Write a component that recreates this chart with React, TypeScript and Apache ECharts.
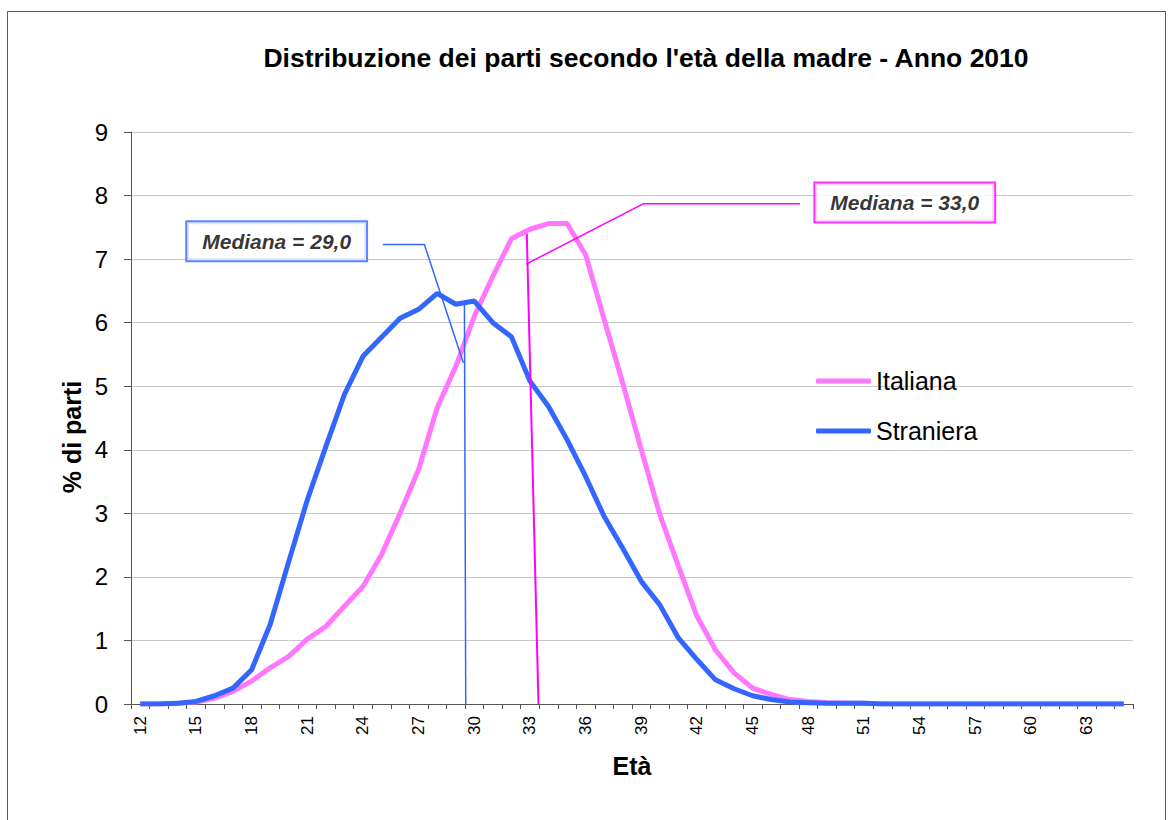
import React, { useEffect, useRef } from "react";
import * as echarts from "echarts";

const FONT = "'Liberation Sans', Arial, Helvetica, sans-serif";

const TITLE = "Distribuzione dei parti secondo l'età della madre - Anno 2010";
const X_NAME = "Età";
const Y_NAME = "% di parti";

// Ages 12..65
const ages: string[] = [
  "12", "13", "14", "15", "16", "17", "18", "19", "20", "21", "22", "23", "24", "25",
  "26", "27", "28", "29", "30", "31", "32", "33", "34", "35", "36", "37", "38", "39",
  "40", "41", "42", "43", "44", "45", "46", "47", "48", "49", "50", "51", "52", "53",
  "54", "55", "56", "57", "58", "59", "60", "61", "62", "63", "64", "65",
];

const italiana: number[] = [
  0, 0, 0.01, 0.03, 0.09, 0.2, 0.36, 0.57, 0.75, 1.02, 1.22, 1.54, 1.85, 2.35,
  3.0, 3.69, 4.66, 5.31, 6.1, 6.73, 7.32, 7.47, 7.56, 7.56, 7.07, 6.05, 5.05, 4.0,
  2.98, 2.17, 1.38, 0.85, 0.49, 0.25, 0.15, 0.07, 0.04, 0.02, 0.01, 0.01, 0, 0,
  0, 0, 0, 0, 0, 0, 0, 0, 0, 0, 0, 0,
];

const straniera: number[] = [
  0, 0, 0.01, 0.04, 0.13, 0.25, 0.54, 1.25, 2.24, 3.21, 4.05, 4.87, 5.47, 5.77,
  6.07, 6.21, 6.46, 6.29, 6.34, 6.0, 5.78, 5.08, 4.68, 4.16, 3.58, 2.95, 2.45, 1.93,
  1.56, 1.04, 0.7, 0.38, 0.24, 0.13, 0.07, 0.03, 0.02, 0.01, 0.01, 0.01, 0, 0,
  0, 0, 0, 0, 0, 0, 0, 0, 0, 0, 0, 0,
];

const yTicks = { min: 0, max: 9, interval: 1 };

// Annotations in data units (age, %)
const blueCallout: number[][] = [[25.07, 7.23], [27.31, 7.23], [29.41, 5.37]];
const blueMedianLine: number[][] = [[29.47, 6.28], [29.54, 0]];
const pinkCallout: number[][] = [[47.56, 7.87], [39.1, 7.87], [32.79, 6.92]];
const pinkMedianLine: number[][] = [[32.83, 7.4], [33.46, 0]];
const medianLabels: string[] = ["Mediana = 29,0", "Mediana = 33,0"];
const medianBoxPos: number[][] = [[19.35, 7.28], [53.2, 7.89]];

const PINK = "#ff77ff";
const BLUE = "#3366ff";
const MAGENTA = "#ff00ff";

export default function App() {
  const ref = useRef<HTMLDivElement>(null);

  useEffect(() => {
    if (!ref.current) return;
    const chart = echarts.init(ref.current, null, { renderer: "svg" });

    const option: any = {
      animation: false,
      backgroundColor: "#ffffff",
      textStyle: { fontFamily: FONT },
      grid: { left: 131, right: 37, top: 132, bottom: 116, containLabel: false },
      legend: {
        orient: "vertical",
        left: 811,
        top: 363,
        icon: "roundRect",
        itemWidth: 55,
        itemHeight: 5,
        itemGap: 24,
        data: ["Italiana", "Straniera"],
        textStyle: { fontSize: 25, color: "#000", fontFamily: FONT, lineHeight: 26 },
      },
      xAxis: [
        {
          type: "category",
          data: ages,
          boundaryGap: true,
          axisLine: { lineStyle: { color: "#555555", width: 1 } },
          axisTick: { show: true, interval: 0, length: 5, lineStyle: { color: "#555555" } },
          axisLabel: {
            interval: 2,
            rotate: 90,
            fontSize: 17,
            margin: 12,
            color: "#000",
            fontFamily: FONT,
          },
          splitLine: { show: false },
          name: X_NAME,
          nameLocation: "middle",
          nameGap: 49,
          nameTextStyle: { fontSize: 25, fontWeight: "bold", color: "#000", fontFamily: FONT },
        },
        {
          type: "value",
          min: 11.5,
          max: 65.5,
          show: false,
          gridIndex: 0,
        },
      ],
      yAxis: {
        type: "value",
        min: yTicks.min,
        max: yTicks.max,
        interval: yTicks.interval,
        axisLine: { show: true, lineStyle: { color: "#555555", width: 1 } },
        axisTick: { show: true, length: 7, lineStyle: { color: "#555555" } },
        axisLabel: { fontSize: 24, margin: 23, color: "#000", fontFamily: FONT },
        splitLine: { show: true, lineStyle: { color: "#c8c8c8", width: 1 } },
      },
      graphic: [
        {
          type: "rect",
          shape: { x: 7.5, y: 11.5, width: 1158, height: 830 },
          style: { fill: "none", stroke: "#595959", lineWidth: 1 },
          silent: true,
          z: -10,
        },
        {
          type: "text",
          x: 646,
          y: 58,
          style: {
            text: TITLE,
            font: `bold 26.5px ${FONT}`,
            fill: "#000",
            textAlign: "center",
            textVerticalAlign: "middle",
          },
        },
        {
          type: "text",
          x: 72,
          y: 437,
          rotation: Math.PI / 2,
          style: {
            text: Y_NAME,
            font: `bold 25px ${FONT}`,
            fill: "#000",
            textAlign: "center",
            textVerticalAlign: "middle",
          },
        },
      ],
      series: [
        {
          name: "Italiana",
          type: "line",
          data: italiana,
          symbol: "none",
          color: PINK,
          lineStyle: { width: 5, color: PINK },
          z: 2,
        },
        {
          name: "Straniera",
          type: "line",
          data: straniera,
          symbol: "none",
          color: BLUE,
          lineStyle: { width: 5, color: BLUE },
          z: 3,
        },
        {
          name: "blueCallout",
          type: "line",
          xAxisIndex: 1,
          data: blueCallout,
          symbol: "none",
          silent: true,
          lineStyle: { width: 1.5, color: BLUE },
          z: 4,
        },
        {
          name: "blueMedian",
          type: "line",
          xAxisIndex: 1,
          data: blueMedianLine,
          symbol: "none",
          silent: true,
          lineStyle: { width: 1.5, color: BLUE },
          z: 4,
        },
        {
          name: "pinkCallout",
          type: "line",
          xAxisIndex: 1,
          data: pinkCallout,
          symbol: "none",
          silent: true,
          lineStyle: { width: 1.5, color: MAGENTA },
          z: 4,
        },
        {
          name: "pinkMedian",
          type: "line",
          xAxisIndex: 1,
          data: pinkMedianLine,
          symbol: "none",
          silent: true,
          lineStyle: { width: 2, color: MAGENTA },
          z: 4,
        },
        {
          name: "medianBoxes",
          type: "scatter",
          xAxisIndex: 1,
          symbol: "circle",
          symbolSize: 1,
          silent: true,
          z: 5,
          itemStyle: { color: "rgba(0,0,0,0)" },
          data: medianBoxPos.map((p, i) => ({
            value: p,
            name: medianLabels[i],
            label: { borderColor: i === 0 ? BLUE : MAGENTA },
          })),
          label: {
            show: true,
            position: "inside",
            formatter: (p: any) => p.name,
            color: "#000",
            fontSize: 21,
            fontWeight: "bold",
            fontStyle: "italic",
            fontFamily: FONT,
            lineHeight: 22,
            backgroundColor: "#ffffff",
            borderWidth: 2,
            padding: [8, 15],
          },
        },
      ],
    };

    chart.setOption(option);
    return () => chart.dispose();
  }, []);

  return (
    <div
      ref={ref}
      style={{ position: "absolute", left: 0, top: 0, width: 1170, height: 820 }}
    />
  );
}
